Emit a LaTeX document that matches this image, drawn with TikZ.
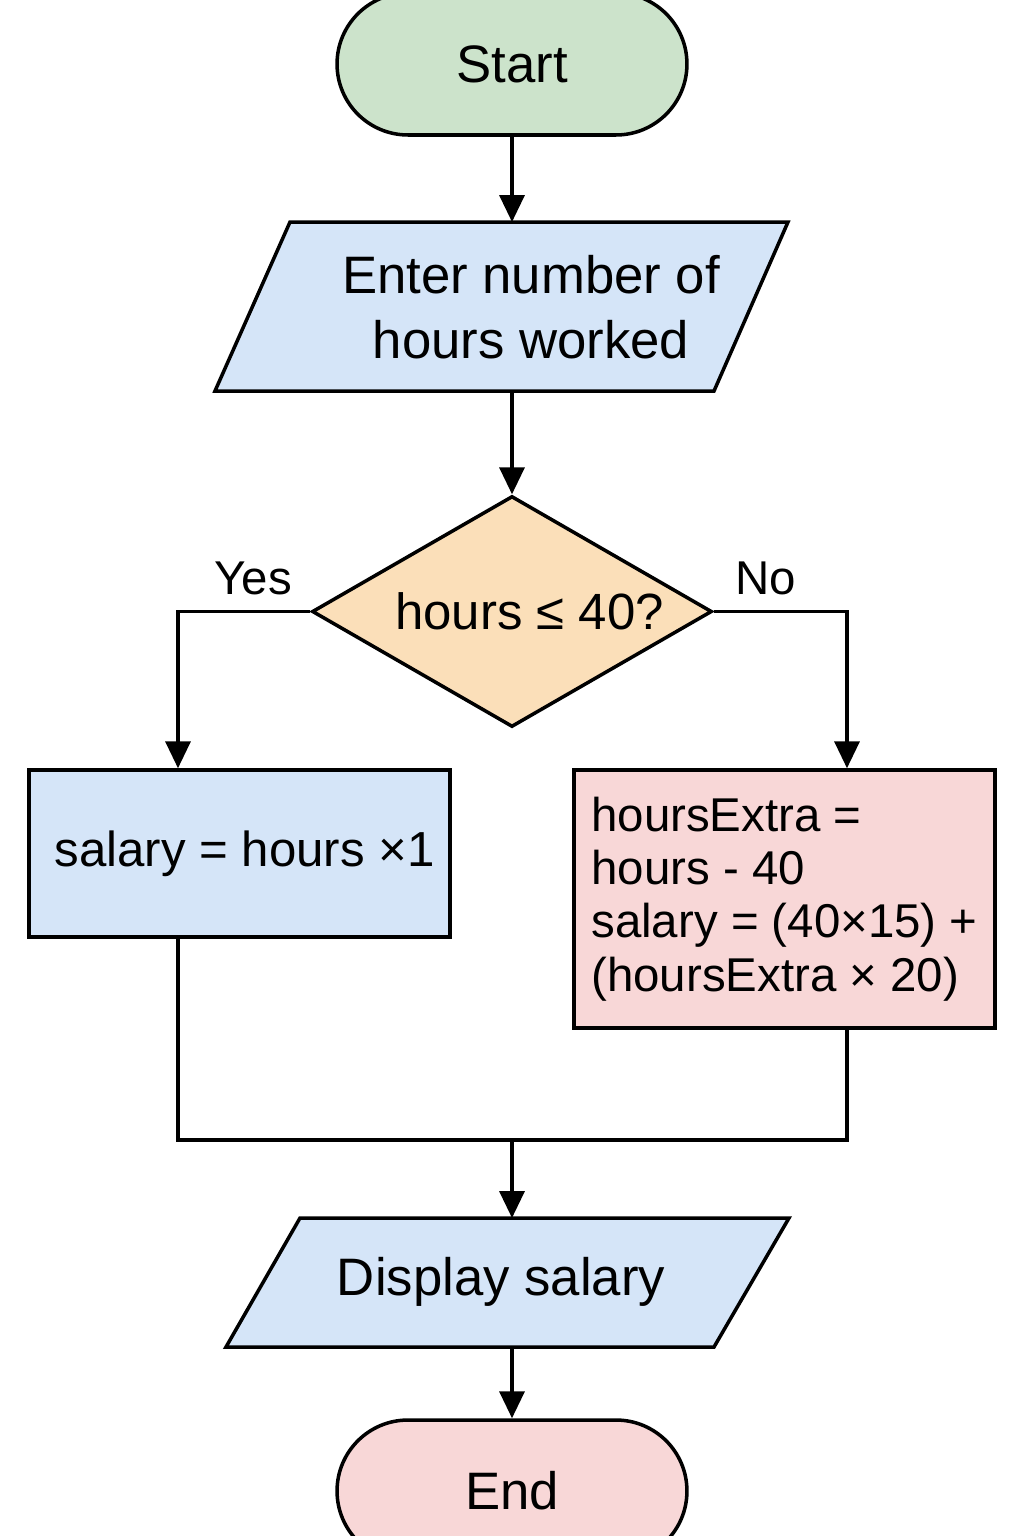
\documentclass[tikz,border=0pt]{standalone}
\usepackage{fontspec}
\setmainfont{Liberation Sans}
\usetikzlibrary{shapes.misc,shapes.geometric,arrows.meta}
\definecolor{startgreen}{HTML}{CCE3CB}
\definecolor{ioblue}{HTML}{D5E5F8}
\definecolor{decorange}{HTML}{FBDFB9}
\definecolor{stoppink}{HTML}{F8D7D7}
\begin{document}
\begin{tikzpicture}[x=0.02cm,y=-0.02cm,
  line width=2pt,
  term/.style={rounded rectangle, draw, minimum width=7cm, minimum height=2.84cm, inner sep=0pt, font=\fontsize{30}{34}\selectfont},
  iobox/.style={draw, fill=ioblue, line join=miter},
  procbox/.style={rectangle, draw, minimum width=8.42cm, inner sep=0pt},
  decbox/.style={diamond, draw, fill=decorange, aspect=1.732, minimum width=8cm, minimum height=4.62cm, inner sep=0pt, font=\fontsize{29}{34}\selectfont},
  txt/.style={font=\fontsize{30}{36.8}\selectfont, align=center, inner sep=0pt},
  arr/.style={-{Triangle[length=0.54cm,width=0.5cm]}},
  lab/.style={font=\fontsize{27}{30}\selectfont, inner sep=0pt}
]
\useasboundingbox (0,0) rectangle (1024,1536);
\coordinate (yesX) at (178,0);
\coordinate (noX) at (847,0);
\coordinate (merge) at (512,1140);
% start
\node[term, fill=startgreen] (start) at (512,64) {Start};
% input
\path[iobox] (290,222) coordinate (inTL) -- (788,222) -- (714,391) -- (215,391) coordinate (inBL) -- cycle;
\node[txt] (inp) at (531,307) {Enter number of\\hours worked};
% decision
\node[decbox] (dec) at (512,611.5) {\hspace*{0.7cm}hours ≤ 40?};
\node[lab] (yes) at (253,578) {Yes};
\node[lab] (no) at (766,578) {No};
% process boxes
\node[procbox, fill=ioblue, minimum height=3.34cm, font=\fontsize{28}{32}\selectfont] (yesbox) at (239.5,853.5) {\hspace*{0.2cm}salary = hours ×1};
\node[procbox, fill=stoppink, minimum height=5.16cm, align=left, font=\fontsize{27}{30.3}\selectfont] (nobox) at (784.5,899) {hoursExtra =\\hours - 40\\salary = (40×15) +\\(hoursExtra × 20)};
% display
\path[iobox] (300,1218) coordinate (dTL) -- (789,1218) -- (714,1347) -- (226,1347) coordinate (dBL) -- cycle;
\node[txt] (disp) at (501,1282) {Display salary};
% end
\node[term, fill=stoppink] (stop) at (512,1491) {End};
% connectors
\draw[arr] (start.south) -- (start.south |- inTL);
\draw[arr] (start.south |- inBL) -- (dec.north);
\draw[arr] (dec.west) -| (yesX |- yesbox.north);
\draw[arr] (dec.east) -| (noX |- nobox.north);
\draw (yesX |- yesbox.south) |- (merge) -| (noX |- nobox.south);
\draw[arr] (merge) -- (merge |- dTL);
\draw[arr] (merge |- dBL) -- (stop.north);
\end{tikzpicture}
\end{document}
